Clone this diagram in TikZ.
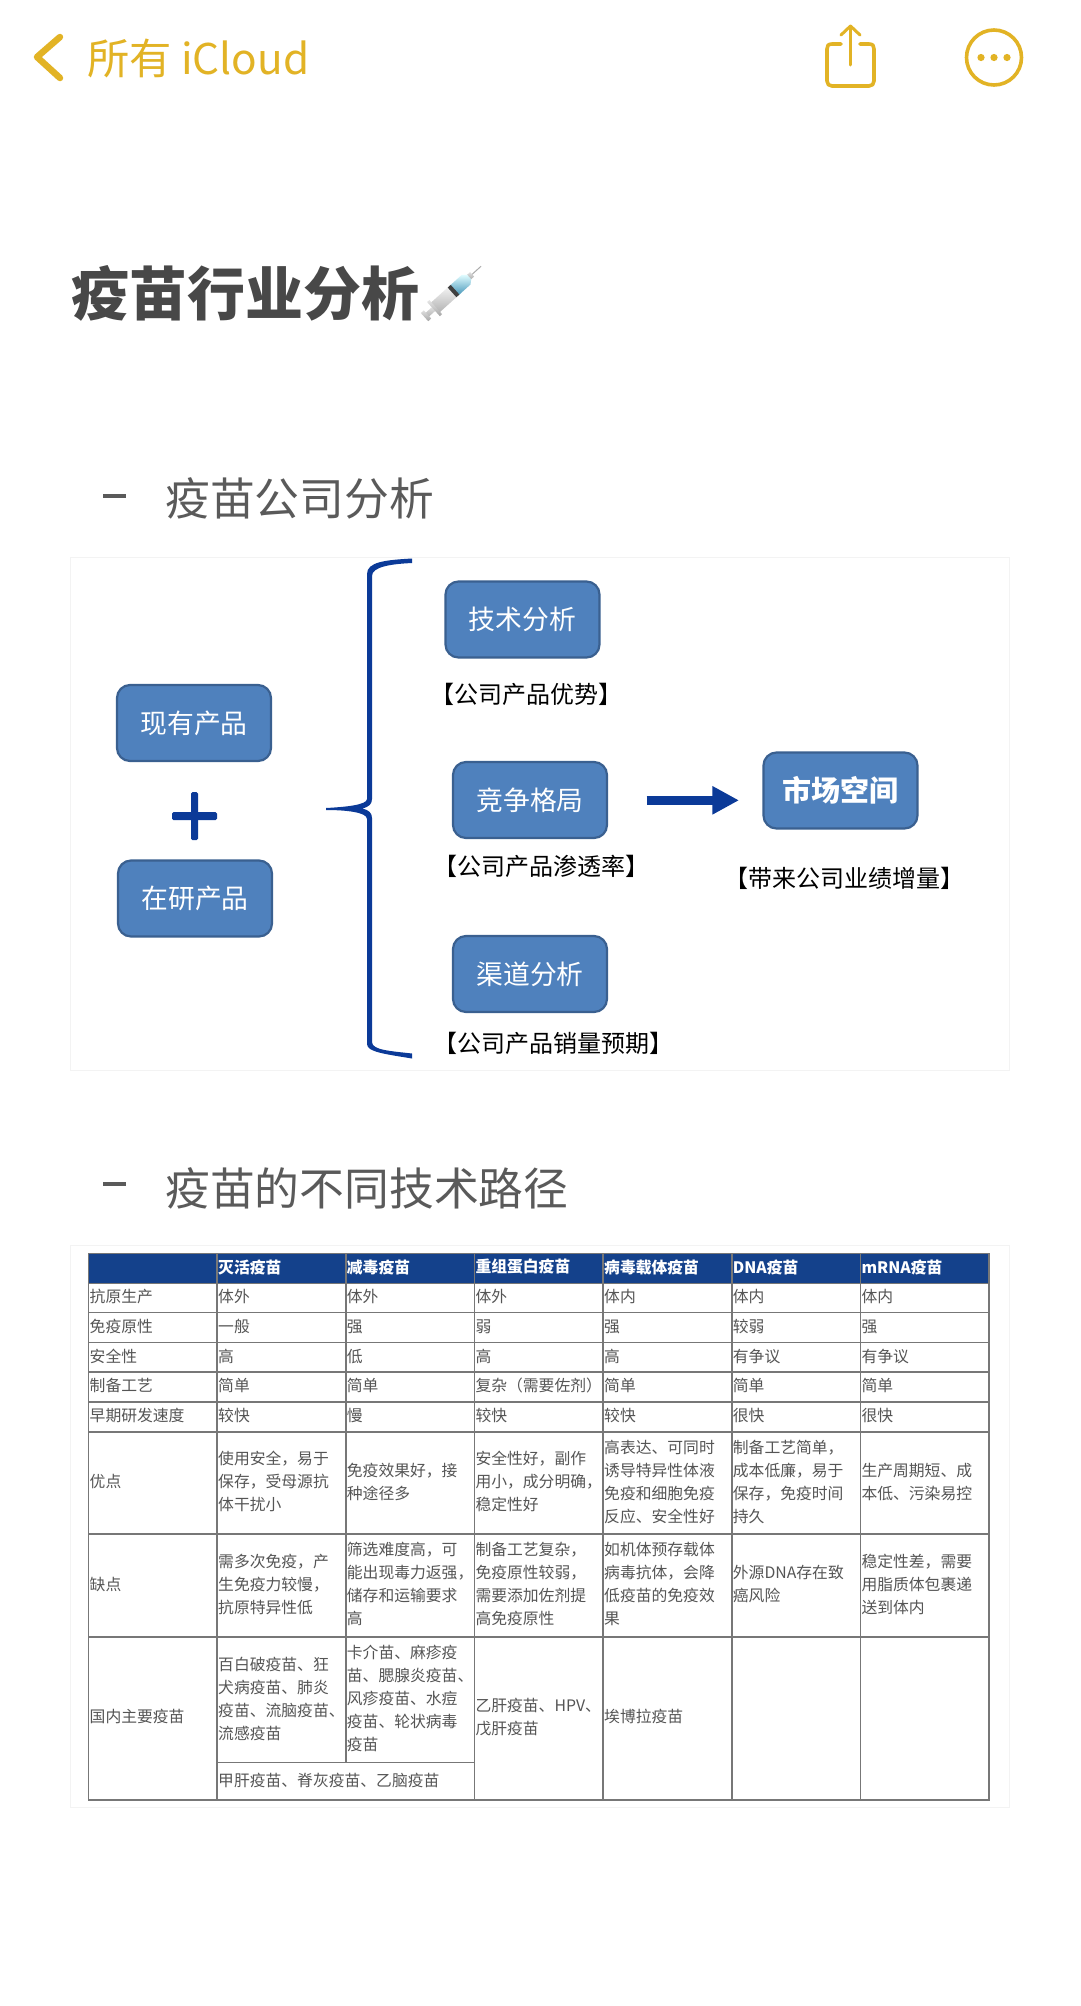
\documentclass[tikz,border=0pt]{standalone}
\usepackage{fontspec}
\setmainfont{Noto Sans CJK SC}
\usetikzlibrary{arrows.meta,calc}
\definecolor{gold}{HTML}{E2B325}
\definecolor{navy}{HTML}{0B3A98}
\definecolor{boxfill}{HTML}{4F81BD}
\definecolor{boxline}{HTML}{3A6090}
\definecolor{headfill}{HTML}{14418B}
\definecolor{grid}{HTML}{777777}
\definecolor{celltext}{HTML}{555555}
\definecolor{titletext}{HTML}{484848}
\definecolor{panel}{HTML}{F3F3F3}
\tikzset{
  bluebox/.style={draw=boxline,fill=boxfill,line width=2.2pt,rounded corners=13pt,minimum width=154pt,minimum height=76pt,inner sep=0pt,text=white,font=\fontsize{26.8}{30}\selectfont},
  bracelabel/.style={inner sep=0pt,text=black,font=\fontsize{24}{28}\selectfont},
  cellt/.style={anchor=west,inner sep=0pt,align=left,text=celltext,font=\fontsize{15.8}{23}\selectfont},
  headt/.style={anchor=west,inner sep=0pt,text=white,font=\fontsize{15.8}{23}\selectfont\bfseries},
  gridline/.style={draw=grid,line width=1.6pt},
  panelbox/.style={draw=panel,fill=white,line width=1pt},
  icon/.style={draw=gold,line width=3.6pt,line cap=round,line join=round},
  subhead/.style={anchor=west,inner sep=0pt,text=titletext!90,font=\fontsize{44.8}{50}\selectfont}
}
\newcommand{\tc}[4]{\node[cellt] (#1) at (#2,#3) {#4};}
\newcommand{\hc}[3]{\node[headt] (#1) at (#2,1267) {#3};}
\begin{document}
\begin{tikzpicture}[x=1pt,y=-1pt]
\useasboundingbox (0,0) rectangle (1080,2006);
\fill[white] (0,0) rectangle (1080,2006);
% top bar
\draw[draw=gold,line width=6.5pt,line cap=round,line join=round] (60,37) -- (37,57) -- (60,78);
\node[anchor=west,inner sep=0pt,text=gold,font=\fontsize{42.3}{48}\selectfont] (back) at (87,58) {所有 iCloud};
\draw[icon] (841,44) -- (832,44) .. controls (828,44) and (827,46) .. (827,49) -- (827,81) .. controls (827,84) and (829,86) .. (832,86) -- (869,86) .. controls (872,86) and (874,84) .. (874,81) -- (874,49) .. controls (874,46) and (873,44) .. (869,44) -- (860,44);
\draw[icon,line width=3pt] (850.5,65) -- (850.5,26);
\draw[icon,line width=3pt] (841,35) -- (850.5,26) -- (860,35);
\draw[icon] (994,57.5) circle (27.5);
\fill[gold] (981,57.5) circle (3.6) (994,57.5) circle (3.6) (1007,57.5) circle (3.6);
% title
\node[anchor=west,inner sep=0pt,text=titletext,font=\fontsize{58}{64}\selectfont\bfseries] (title) at (71,293) {疫苗行业分析};
% syringe
\begin{scope}[shift={(452.8,291.7)},rotate=42]
  \draw[gray!65,line width=1pt] (24,0) -- (38,0);
  \shade[top color=gray!25,bottom color=gray!70] (20,-3) rectangle (26,3);
  \shade[top color=gray!20,bottom color=gray!65] (-37,-2.5) rectangle (-24,2.5);
  \shade[top color=gray!25,bottom color=gray!70] (-38,-5.5) rectangle (-34,5.5);
  \shade[top color=gray!10,bottom color=gray!60] (-24,-6.5) rectangle (0,6.5);
  \shade[top color=gray!20,bottom color=gray!70] (-26,-9.5) rectangle (-23,9.5);
  \shade[top color=blue!8!cyan!12!white,bottom color=blue!30!cyan!45!gray] (2,-6.5) rectangle (18,6.5) (18,-6.5) -- (18,6.5) -- (22,3) -- (22,-3) -- cycle;
  \fill[black!75] (-1,-6.5) rectangle (3,6.5);
\end{scope}
% section 1
\fill[titletext!90] (103,493.5) rectangle (126,497.5);
\node[subhead] (s1) at (165,498) {疫苗公司分析};
\draw[panelbox] (70.5,557) rectangle (1009.5,1070);
% diagram
\node[bluebox] (xy) at (194,723) {\raisebox{-1pt}{现有产品}};
\node[bluebox] (zy) at (195,898.5) {\raisebox{-1pt}{在研产品}};
\node[bluebox] (js) at (522.5,619.5) {\raisebox{-1pt}{技术分析}};
\node[bluebox] (jz) at (530,800) {\raisebox{-1pt}{竞争格局}};
\node[bluebox] (qd) at (530,974) {\raisebox{-1pt}{渠道分析}};
\node[bluebox,font=\fontsize{29}{32}\selectfont\bfseries] (sc) at (840.5,790.5) {市场空间};
\node[bracelabel] (l1) at (526,694) {【公司产品优势】};
\node[bracelabel] (l2) at (541,866) {【公司产品渗透率】};
\node[bracelabel] (l3) at (844,878) {【带来公司业绩增量】};
\node[bracelabel] (l4) at (553,1043) {【公司产品销量预期】};
% plus
\fill[navy,rounded corners=1.5pt] (172,812) rectangle (217,820);
\fill[navy,rounded corners=1.5pt] (191,792) rectangle (198,840);
% brace
\fill[navy] (412,558.5) .. controls (385,560) and (367,562) .. (367,574) -- (367,799)
  .. controls (367,805) and (345,807) .. (326,808) -- (326,810)
  .. controls (345,810) and (367,812) .. (367,819) -- (367,1044)
  .. controls (367,1052) and (385,1054) .. (412,1058.5) -- (412,1053.5)
  .. controls (390,1051) and (372,1050) .. (372,1042) -- (372,818)
  .. controls (372,813) and (369,810) .. (362,808.5) .. controls (369,807) and (372,804) .. (372,799) -- (372,576)
  .. controls (372,567) and (390,564) .. (412,563) -- cycle;
% arrow
\coordinate (arrA) at (646.7,800.3);
\coordinate (arrB) at (739,800.3);
\draw[navy,line width=9.3pt,-{Triangle[length=26.7pt,width=26.7pt]}] (arrA) -- (arrB);
% section 2
\fill[titletext!90] (103,1181.5) rectangle (126,1185.5);
\node[subhead] (s2) at (165,1188) {疫苗的不同技术路径};
\draw[panelbox] (70.5,1245) rectangle (1009.5,1807);
% table
\fill[headfill] (88.3,1253.3) rectangle (989,1283.3);
\draw[gridline] (88.3,1253.3) rectangle (989,1799.7);
\foreach \yy in {1283.3,1312.3,1342.3,1372,1401.7,1431.7,1533.7,1636.7}
  \draw[gridline] (88.3,\yy) -- (989,\yy);
\draw[gridline] (217,1762.3) -- (474.3,1762.3);
\draw[gridline] (217,1253.3) -- (217,1799.7);
\draw[gridline] (345.7,1253.3) -- (345.7,1762.3);
\draw[gridline] (474.3,1253.3) -- (474.3,1799.7);
\draw[gridline] (603,1253.3) -- (603,1799.7);
\draw[gridline] (731.7,1253.3) -- (731.7,1799.7);
\draw[gridline] (860.3,1253.3) -- (860.3,1799.7);
% header
\hc{h1}{218}{灭活疫苗}
\hc{h2}{346.7}{减毒疫苗}
\hc{h3}{475.3}{重组蛋白疫苗}
\hc{h4}{604}{病毒载体疫苗}
\hc{h5}{732.7}{DNA疫苗}
\hc{h6}{861.3}{mRNA疫苗}
% rows
\tc{a0}{89.5}{1296.7}{抗原生产}
\tc{a1}{218}{1296.7}{体外}
\tc{a2}{346.7}{1296.7}{体外}
\tc{a3}{475.3}{1296.7}{体外}
\tc{a4}{604}{1296.7}{体内}
\tc{a5}{732.7}{1296.7}{体内}
\tc{a6}{861.3}{1296.7}{体内}
\tc{b0}{89.5}{1326.5}{免疫原性}
\tc{b1}{218}{1326.5}{一般}
\tc{b2}{346.7}{1326.5}{强}
\tc{b3}{475.3}{1326.5}{弱}
\tc{b4}{604}{1326.5}{强}
\tc{b5}{732.7}{1326.5}{较弱}
\tc{b6}{861.3}{1326.5}{强}
\tc{c0}{89.5}{1356.3}{安全性}
\tc{c1}{218}{1356.3}{高}
\tc{c2}{346.7}{1356.3}{低}
\tc{c3}{475.3}{1356.3}{高}
\tc{c4}{604}{1356.3}{高}
\tc{c5}{732.7}{1356.3}{有争议}
\tc{c6}{861.3}{1356.3}{有争议}
\tc{d0}{89.5}{1385.7}{制备工艺}
\tc{d1}{218}{1385.7}{简单}
\tc{d2}{346.7}{1385.7}{简单}
\tc{d3}{475.3}{1385.7}{复杂（需要佐剂）}
\tc{d4}{604}{1385.7}{简单}
\tc{d5}{732.7}{1385.7}{简单}
\tc{d6}{861.3}{1385.7}{简单}
\tc{e0}{89.5}{1415.7}{早期研发速度}
\tc{e1}{218}{1415.7}{较快}
\tc{e2}{346.7}{1415.7}{慢}
\tc{e3}{475.3}{1415.7}{较快}
\tc{e4}{604}{1415.7}{较快}
\tc{e5}{732.7}{1415.7}{很快}
\tc{e6}{861.3}{1415.7}{很快}
\tc{f0}{89.5}{1481.7}{优点}
\tc{f1}{218}{1481.7}{使用安全，易于\\保存，受母源抗\\体干扰小}
\tc{f2}{346.7}{1481.7}{免疫效果好，接\\种途径多}
\tc{f3}{475.3}{1481.7}{安全性好，副作\\用小，成分明确，\\稳定性好}
\tc{f4}{604}{1481.7}{高表达、可同时\\诱导特异性体液\\免疫和细胞免疫\\反应、安全性好}
\tc{f5}{732.7}{1481.7}{制备工艺简单，\\成本低廉，易于\\保存，免疫时间\\持久}
\tc{f6}{861.3}{1481.7}{生产周期短、成\\本低、污染易控}
\tc{g0}{89.5}{1584}{缺点}
\tc{g1}{218}{1584}{需多次免疫，产\\生免疫力较慢，\\抗原特异性低}
\tc{g2}{346.7}{1584}{筛选难度高，可\\能出现毒力返强，\\储存和运输要求\\高}
\tc{g3}{475.3}{1584}{制备工艺复杂，\\免疫原性较弱，\\需要添加佐剂提\\高免疫原性}
\tc{g4}{604}{1584}{如机体预存载体\\病毒抗体，会降\\低疫苗的免疫效\\果}
\tc{g5}{732.7}{1584}{外源DNA存在致\\癌风险}
\tc{g6}{861.3}{1584}{稳定性差，需要\\用脂质体包裹递\\送到体内}
\tc{k0}{89.5}{1716.7}{国内主要疫苗}
\tc{k1}{218}{1698.5}{百白破疫苗、狂\\犬病疫苗、肺炎\\疫苗、流脑疫苗、\\流感疫苗}
\tc{k2}{346.7}{1698.8}{卡介苗、麻疹疫\\苗、腮腺炎疫苗、\\风疹疫苗、水痘\\疫苗、轮状病毒\\疫苗}
\tc{k3}{475.3}{1716.7}{乙肝疫苗、HPV、\\戊肝疫苗}
\tc{k4}{604}{1716.7}{埃博拉疫苗}
\tc{m1}{218}{1780}{甲肝疫苗、脊灰疫苗、乙脑疫苗}
\end{tikzpicture}
\end{document}
